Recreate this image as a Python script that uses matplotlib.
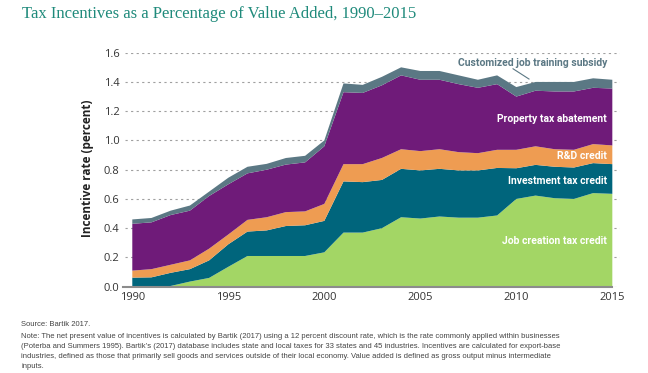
#!/usr/bin/env python3
"""Tax incentives as a percentage of value added, 1990-2015 (stacked area)."""

import matplotlib

matplotlib.use("Agg")
import matplotlib.pyplot as plt


YEARS = list(range(1990, 2016))

# layer values (percent of value added)
JOB_CREATION = [0.00, 0.00, 0.005, 0.035, 0.06, 0.136, 0.21, 0.21, 0.21, 0.21, 0.235, 0.37, 0.37,
                0.40, 0.475, 0.466, 0.48, 0.472, 0.472, 0.487, 0.60, 0.623, 0.605, 0.60, 0.64, 0.635]
INVESTMENT = [0.062, 0.064, 0.09, 0.085, 0.12, 0.154, 0.167, 0.175, 0.205, 0.21, 0.215, 0.35, 0.345,
              0.33, 0.331, 0.329, 0.326, 0.323, 0.323, 0.325, 0.21, 0.21, 0.215, 0.215, 0.205, 0.203]
RD_CREDIT = [0.048, 0.056, 0.055, 0.06, 0.08, 0.067, 0.08, 0.09, 0.095, 0.095, 0.116, 0.118, 0.123,
             0.15, 0.134, 0.132, 0.134, 0.125, 0.118, 0.124, 0.126, 0.127, 0.12, 0.121, 0.13, 0.128]
PROPERTY = [0.32, 0.32, 0.34, 0.34, 0.36, 0.343, 0.318, 0.325, 0.325, 0.335, 0.394, 0.492, 0.487,
            0.497, 0.505, 0.488, 0.475, 0.465, 0.447, 0.449, 0.364, 0.38, 0.395, 0.399, 0.385, 0.389]
JOB_TRAINING = [0.03, 0.03, 0.03, 0.035, 0.03, 0.045, 0.045, 0.04, 0.045, 0.045, 0.04, 0.06, 0.055,
                0.058, 0.055, 0.06, 0.06, 0.06, 0.055, 0.06, 0.065, 0.06, 0.065, 0.065, 0.065, 0.06]

X_TICKS = [1990, 1995, 2000, 2005, 2010, 2015]
Y_TICKS = [0.0, 0.2, 0.4, 0.6, 0.8, 1.0, 1.2, 1.4, 1.6]

COLORS = ["#a3d665", "#00657c", "#ee9c52", "#6f1b79", "#5b7884"]
TITLE_COLOR = "#1f8a7b"
LABEL_FONT = ["Roboto", "DejaVu Sans"]

NOTE_LINES = [
    "Source: Bartik 2017.",
    "Note: The net present value of incentives is calculated by Bartik (2017) using a 12 percent discount rate, "
    "which is the rate commonly applied within businesses",
    "(Poterba and Summers 1995). Bartik\u2019s (2017) database includes state and local taxes for 33 states "
    "and 45 industries. Incentives are calculated for export-base",
    "industries, defined as those that primarily sell goods and services outside of their local economy. "
    "Value added is defined as gross output minus intermediate",
    "inputs.",
]

fig = plt.figure(figsize=(6.48, 3.73), dpi=100)
ax = fig.add_axes([125 / 648, 1 - 286.7 / 373, (620 - 125) / 648, (286.7 - 52.7) / 373])

ax.stackplot(YEARS, JOB_CREATION, INVESTMENT, RD_CREDIT, PROPERTY, JOB_TRAINING,
             colors=COLORS, linewidth=0, zorder=2)

ax.set_xlim(1989.62, 2015.4)
ax.set_ylim(0, 1.6)
ax.set_xticks(X_TICKS)
ax.set_yticks(Y_TICKS)
ax.set_yticklabels([f"{v:.1f}" for v in Y_TICKS])
ax.tick_params(length=0, labelsize=8, colors="#333333", pad=4)
for lab in ax.get_xticklabels() + ax.get_yticklabels():
    lab.set_family(["Open Sans", "DejaVu Sans"])

ax.grid(axis="y", linestyle=(0, (2, 3)), color="#a0a0a0", linewidth=0.8, zorder=0)
for side in ["top", "right", "left", "bottom"]:
    ax.spines[side].set_visible(False)
ax.axhline(0, xmin=-0.005, xmax=(2015 - 1989.62) / (2015.4 - 1989.62), color="#8c8c8c", linewidth=1.5,
           zorder=3, clip_on=False)

# in-chart labels
label_x = 2014.72
kw = dict(ha="right", va="center", color="white", fontsize=7.5, fontweight="bold", family=LABEL_FONT)
ax.text(label_x, 1.149, "Property tax abatement", **kw)
ax.text(label_x, 0.894, "R&D credit", **kw)
ax.text(label_x, 0.723, "Investment tax credit", **kw)
ax.text(label_x, 0.313, "Job creation tax credit", **kw)
ax.text(label_x, 1.532, "Customized job training subsidy", ha="right", va="center", color=COLORS[4],
        fontsize=7.5, fontweight="bold", family=LABEL_FONT)
ax.plot([2009.83, 2010.66], [1.49, 1.42], color=COLORS[4], linewidth=0.8, zorder=4)

fig.text(88 / 648, 1 - 168 / 373, "Incentive rate (percent)", rotation=90, ha="center", va="center",
         fontsize=8.5, fontweight="bold", color="#222222", family=["Open Sans", "DejaVu Sans"])

fig.text(22 / 648, 1 - 14 / 373, "Tax Incentives as a Percentage of Value Added, 1990\u20132015",
         ha="left", va="center", fontsize=12, color=TITLE_COLOR, family=["Liberation Serif", "DejaVu Serif"])

note_y = [325, 337, 347, 357, 366]
for y, line in zip(note_y, NOTE_LINES):
    fig.text(21 / 648, 1 - y / 373, line, ha="left", va="center", fontsize=5.5, color="#444444",
             family=["Liberation Sans Narrow", "Liberation Sans", "DejaVu Sans"])

fig.savefig("out.png", dpi=100)
